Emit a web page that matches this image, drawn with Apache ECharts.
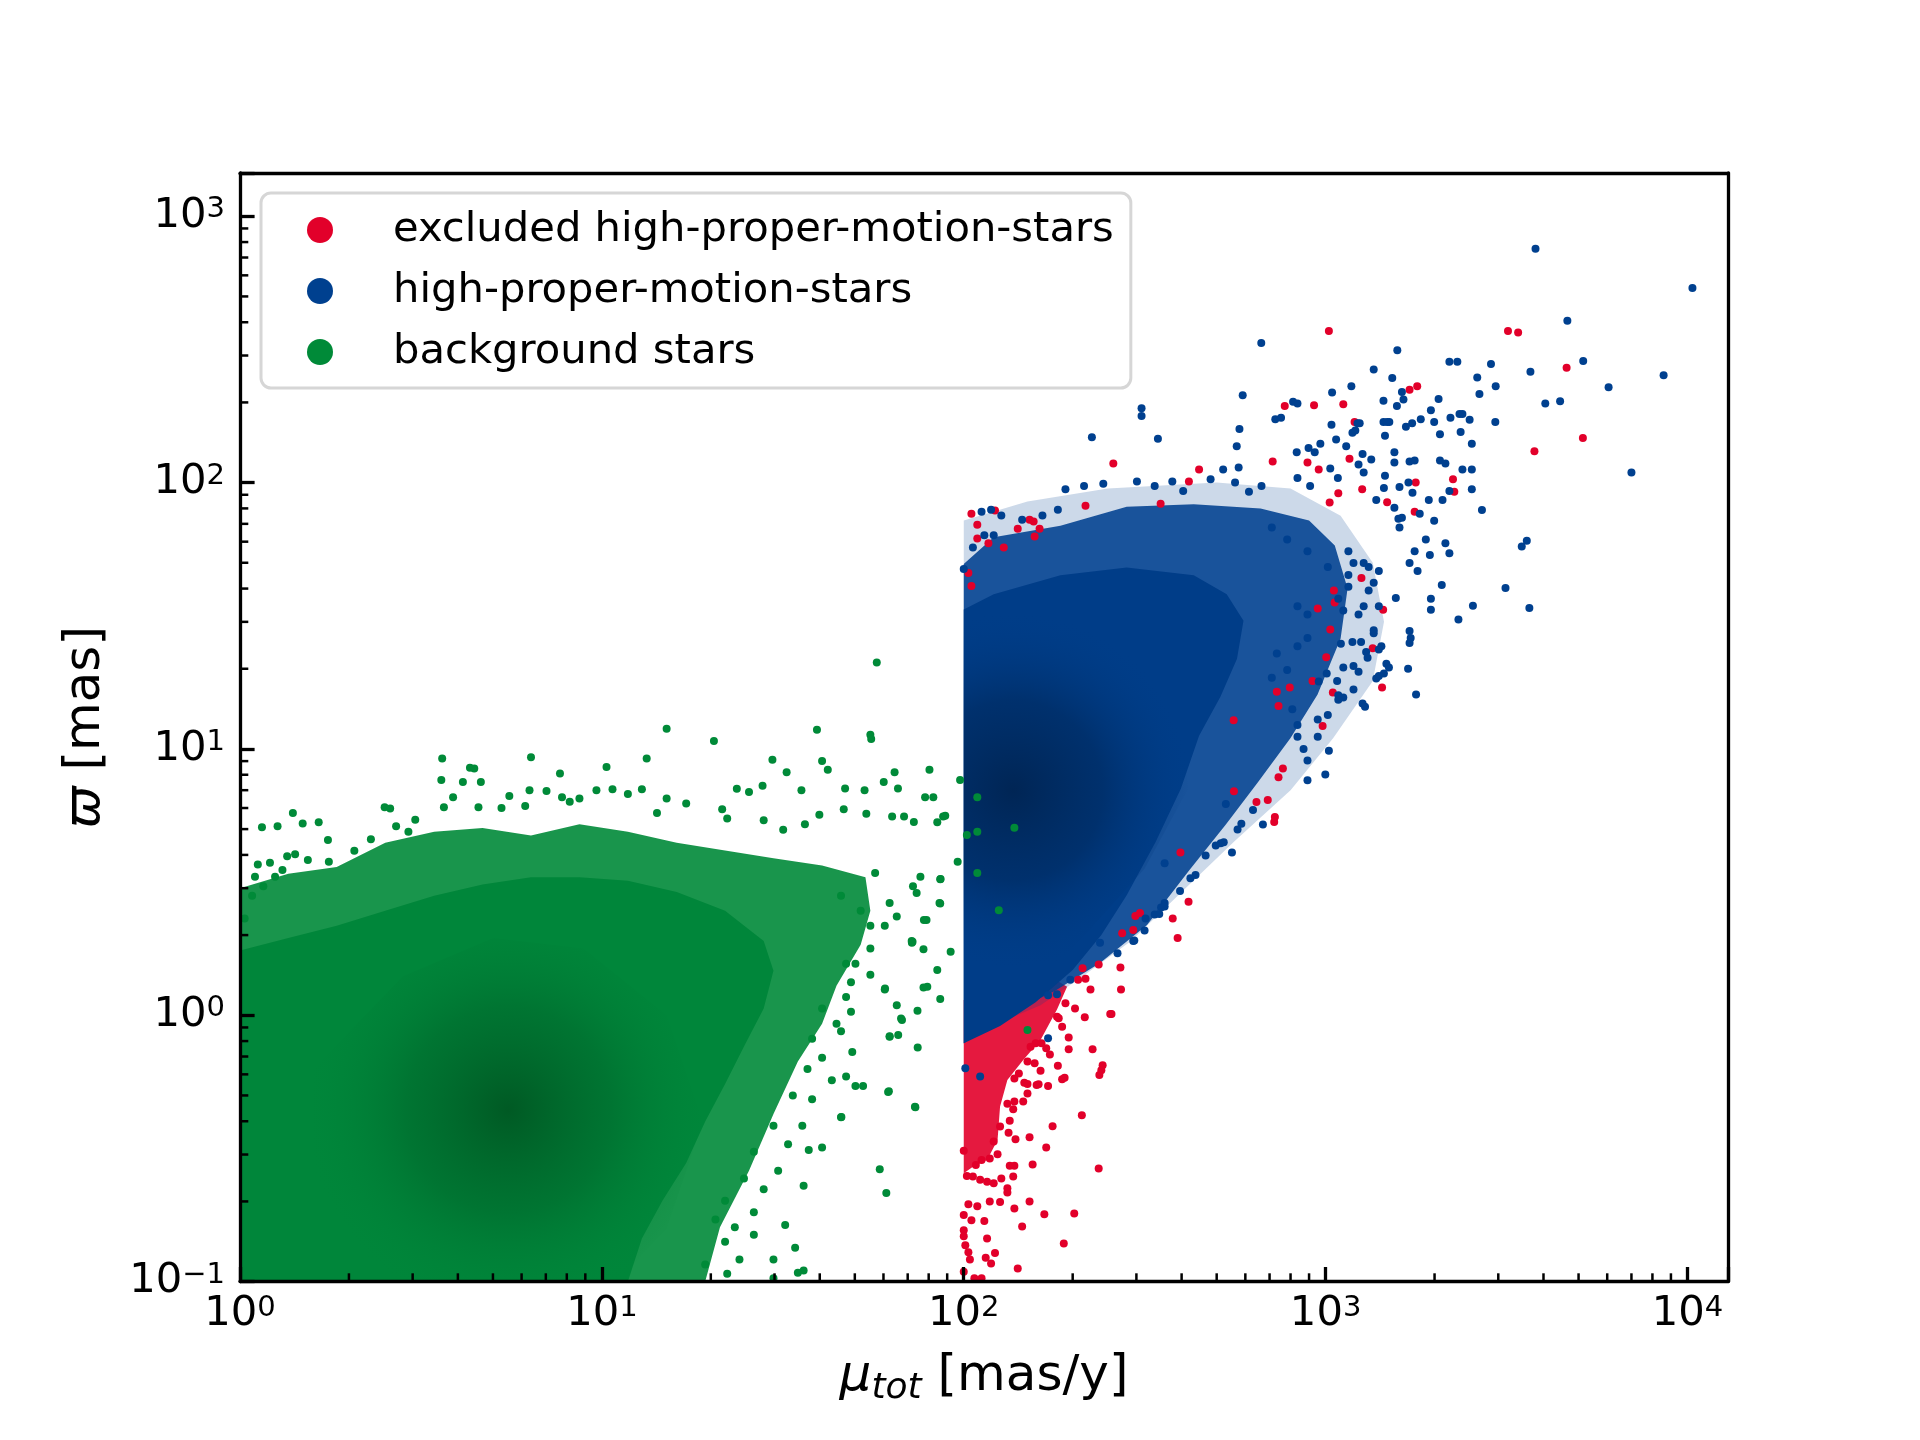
<!DOCTYPE html>
<html>
<head>
<meta charset="utf-8">
<title>proper motion vs parallax</title>
<script src="https://cdn.jsdelivr.net/npm/echarts@6/dist/echarts.min.js"></script>
<style>
html, body { margin: 0; padding: 0; background: #fff; }
#chart { width: 1920px; height: 1440px; }
</style>
</head>
<body>
<div id="chart"></div>
<script>
'use strict';

// axis ranges (mas/y, mas) and minor tick positions
var muRange = [1, 12940];
var plxRange = [0.1, 1456];
var muMinorTicks = [2, 3, 4, 5, 6, 7, 8, 9, 20, 30, 40, 50, 60, 70, 80, 90,
    200, 300, 400, 500, 600, 700, 800, 900, 2000, 3000, 4000, 5000, 6000, 7000, 8000, 9000];
var plxMinorTicks = [0.2, 0.3, 0.4, 0.5, 0.6, 0.7, 0.8, 0.9, 2, 3, 4, 5, 6, 7, 8, 9,
    20, 30, 40, 50, 60, 70, 80, 90, 200, 300, 400, 500, 600, 700, 800, 900];

var seriesNames = ['excluded high-proper-motion-stars', 'high-proper-motion-stars', 'background stars'];

// background stars: outline of the dense cloud and its dark core, plus single stars
var greenHalo = [[1, 3.0], [1.36, 3.4], [1.85, 3.6], [2.52, 4.44], [3.44, 4.89], [4.68, 5.05], [6.37, 4.73],
    [8.67, 5.21], [11.8, 4.89], [16.1, 4.44], [21.9, 4.16], [29.8, 3.89], [40.6, 3.65], [53.5, 3.30],
    [55.2, 2.47], [51.9, 1.84], [44.5, 1.29], [40.6, 0.929], [34.8, 0.671], [29.8, 0.426], [25.5, 0.261],
    [21.2, 0.160], [19.3, 0.1], [1, 0.1]];
var greenBody = [[1, 1.75], [1.36, 1.95], [1.85, 2.17], [2.52, 2.47], [3.44, 2.81], [4.68, 3.10], [6.37, 3.30],
    [8.67, 3.30], [11.8, 3.20], [16.1, 2.90], [21.9, 2.47], [28.0, 1.90], [29.8, 1.47], [28.0, 1.06],
    [24.7, 0.764], [21.9, 0.552], [19.3, 0.399], [17.1, 0.279], [14.7, 0.201], [12.9, 0.145], [11.8, 0.1], [1, 0.1]];
var greenCore = [[1.6, 0.631], [2.82, 1.40], [5.01, 1.95], [8.91, 1.78], [15.1, 1.0], [19.0, 0.398],
    [15.1, 0.158], [11.0, 0.1], [2.5, 0.1], [1.6, 0.251]];
var greenStars = [[15.1, 11.9], [20.4, 10.7], [39.3, 11.8], [55.2, 11.3], [55.5, 10.9], [3.62, 9.2], [6.37, 9.3],
    [13.3, 9.2], [4.32, 8.5], [4.44, 8.45], [10.3, 8.55], [29.6, 9.1], [40.6, 9.0], [42.1, 8.36], [32.4, 8.18],
    [80.4, 8.36], [64.4, 8.18], [3.6, 7.64], [4.13, 7.52], [4.63, 7.52], [7.66, 8.09], [1.40, 5.75], [1.15, 5.08],
    [1.27, 5.13], [1.49, 5.25], [1.65, 5.30], [2.51, 6.04], [2.60, 5.98], [1.75, 4.55], [27.8, 7.28], [35.6, 7.0],
    [47.0, 7.11], [53.2, 7.0], [60.1, 7.52], [65.8, 7.11], [78.2, 6.59], [82.4, 6.59], [97.7, 7.64], [87.7, 5.57],
    [84.5, 5.30], [109, 6.59], [109, 4.89], [102, 4.75], [96.2, 3.77], [109, 3.42], [86.3, 3.25], [92.0, 1.73],
    [125, 2.48], [75.9, 3.31], [72.4, 3.05], [74.1, 2.88], [85.7, 2.64], [78.9, 2.28], [71.9, 1.87], [77.4, 1.77],
    [84.5, 1.48], [77.4, 1.27], [86.1, 1.15], [60.5, 1.25], [65.3, 1.09], [67.5, 0.96], [74.5, 1.04], [62.4, 0.834],
    [65.9, 0.843], [74.6, 0.757], [62.1, 0.518], [73.5, 0.451], [45.8, 0.414], [49.2, 0.728], [50.2, 0.543],
    [52.7, 0.543], [58.6, 0.264], [61.1, 0.215], [36.1, 0.229], [40.6, 0.319], [37.3, 0.312], [34.2, 0.134],
    [29.8, 0.121], [36.1, 0.110], [34.8, 0.108], [32.1, 0.163], [26.3, 0.150], [24.0, 0.121], [29.8, 0.103],
    [88.9, 5.61], [138, 5.06], [150, 0.881], [57.5, 21.1],
    [1.12, 3.68], [1.21, 3.74], [1.31, 3.51], [1.35, 3.95], [1.42, 4.02], [1.54, 3.83], [1.76, 3.77], [1.10, 3.31],
    [1.16, 3.05], [1.25, 3.31], [1.08, 2.81], [1.03, 2.31], [2.07, 4.15], [2.30, 4.58], [2.70, 5.13], [3.05, 5.42],
    [3.88, 6.59], [3.66, 6.04], [4.56, 6.04], [5.28, 6.0], [5.55, 6.65], [6.31, 7.0], [7.03, 6.95], [8.15, 6.34],
    [9.66, 7.0], [10.7, 7.05], [11.8, 6.78], [12.9, 7.05], [15.1, 6.52], [17.1, 6.24], [21.5, 5.94], [23.6, 7.08],
    [25.5, 6.89], [28.0, 5.40], [31.7, 4.97], [36.4, 5.21], [46.6, 5.94], [53.8, 5.71], [63.4, 5.57], [72.8, 5.32],
    [56.9, 3.42], [62.4, 2.64], [65.3, 2.35], [71.8, 1.90], [55.2, 2.17], [50.2, 1.56], [55.2, 1.42], [47.3, 1.17],
    [44.5, 0.929], [48.8, 1.03], [40.6, 0.693], [43.2, 0.570], [47.3, 0.589], [38.1, 0.484], [35.8, 0.385],
    [32.7, 0.328], [30.7, 0.261], [28.0, 0.222], [26.3, 0.182], [23.3, 0.160], [21.9, 0.141], [19.3, 0.116],
    [22.2, 0.107],
    [2.92, 4.89], [6.14, 6.10], [7.76, 6.59], [8.67, 6.52], [14.2, 5.75], [22.2, 5.48], [39.9, 5.66], [68.4, 5.57],
    [45.8, 2.81], [51.9, 2.47], [60.5, 2.17], [55.2, 1.78], [47.3, 1.56], [48.8, 1.33], [40.6, 1.06], [38.1, 0.817],
    [45.8, 0.871], [37.0, 0.628], [33.7, 0.50], [29.8, 0.385], [26.3, 0.307], [24.7, 0.244], [21.9, 0.201],
    [20.6, 0.171], [60.6, 1.26], [67.1, 0.973], [62.4, 0.83], [61.8, 0.515], [73.3, 0.453], [45.9, 0.415],
    [86.1, 2.63], [86.1, 3.24], [77.6, 2.28], [79.3, 1.28], [72.2, 1.89]];

// high-proper-motion stars
var blueHalo = [[100, 72], [150, 85], [250, 95], [500, 100], [800, 95], [1100, 75], [1350, 50], [1450, 30],
    [1350, 18], [1050, 11], [800, 7], [560, 4.5], [400, 2.9], [290, 1.9], [210, 1.38], [163, 1.09], [118, 0.906],
    [100, 0.785]];
var blueSpeckle = [[100, 49.5], [121, 62.4], [185, 68.9], [282, 81.1], [432, 83], [661, 80], [900, 72],
    [1060, 58], [1150, 40], [1100, 26], [950, 16], [800, 11], [650, 7.5], [530, 5.2], [420, 3.5], [321, 2.18],
    [238, 1.57], [178, 1.23], [146, 1.08], [118, 0.906], [100, 0.785]];
var blueBody = [[100, 0.785], [100, 33.4], [121, 38.1], [185, 44.9], [282, 48.0], [432, 44.9], [533, 38.1],
    [593, 30.3], [569, 21.8], [512, 15.7], [447, 11.2], [398, 7.08], [339, 4.47], [282, 2.82], [240, 2.0],
    [200, 1.48], [158, 1.12], [126, 0.912]];
var blueCore = [[100, 1.26], [100, 31.6], [158, 35.5], [282, 28.2], [398, 15.8], [417, 7.08], [316, 3.55],
    [200, 1.78], [141, 1.12]];
var blueStars = [[3802, 755], [10320, 538], [4656, 405],
    [664, 334], [1578, 314], [2198, 284], [2312, 284], [2864, 279], [5150, 286], [8590, 253], [6053, 228],
    [3681, 261], [4046, 198], [4446, 202], [2624, 248], [2661, 215], [2951, 230], [1528, 247], [1358, 266],
    [1042, 218], [1178, 230], [1625, 219], [1641, 205], [1445, 203], [1574, 194], [2052, 206], [1954, 187],
    [2213, 175], [2344, 181], [2388, 181], [2500, 172], [2944, 169], [2535, 140], [2361, 155], [1995, 169],
    [1832, 173], [1734, 167], [1667, 162], [1445, 169], [1479, 169], [1500, 169], [1459, 150], [2070, 152],
    [836, 198], [813, 201], [590, 213], [310, 190], [310, 178], [226, 148], [344, 146], [568, 137], [578, 159],
    [726, 173], [753, 175], [1038, 165], [1140, 137], [1225, 167], [1242, 167], [1069, 145], [1186, 154],
    [1208, 157], [832, 130], [897, 135], [933, 130], [967, 140], [1265, 128], [1337, 122], [1549, 130],
    [1549, 119], [1706, 120], [1762, 121], [1459, 106], [2070, 121], [2143, 118], [2388, 112], [2535, 112],
    [2535, 94.4], [2704, 78.9], [2198, 92.9], [1928, 86.1], [2104, 86.1], [1995, 71.9], [1600, 96.2], [1738, 91.6],
    [1694, 100], [1449, 95.5], [1820, 76.4], [1589, 73.1], [1600, 67.8], [1892, 61.2], [1762, 55.2], [1706, 49.9],
    [1941, 53.5], [1795, 46.6], [2143, 59.2], [2198, 54.3], [3483, 57.5], [3597, 60.5], [3141, 40.2], [3656, 33.8],
    [2553, 34.5], [2328, 30.6], [2094, 41.3], [1954, 36.6], [1954, 33.3], [7000, 109], [1563, 36.9], [1706, 27.7],
    [1718, 26.1], [1706, 25.0], [1690, 20.0], [1778, 16.0], [1472, 20.9], [1496, 20.2], [1449, 19.2], [1358, 27.2],
    [1426, 24.3], [1403, 23.6], [1294, 23.1], [1306, 22.0], [1380, 18.4], [1403, 18.8], [1285, 14.4], [1265, 14.8],
    [1194, 16.7], [1119, 15.6], [1084, 15.9], [1233, 19.5], [1194, 20.5], [1119, 20.2], [1076, 18.0], [1084, 15.3],
    [1186, 25.2], [1253, 25.2], [1102, 24.8], [1007, 19.2], [957, 17.9], [1021, 9.84], [998, 8.02], [891, 9.04],
    [891, 7.62], [951, 11.1], [869, 10.0], [836, 11.1], [836, 12.3], [809, 14.1], [1014, 13.4], [951, 12.9],
    [1358, 42.1], [1403, 46.6], [1315, 48.2], [1274, 49.9], [1156, 55.2], [1194, 49.9], [1274, 34.3], [1084, 36.6],
    [1119, 33.1], [1156, 40.6], [836, 34.3], [891, 32.0], [891, 26.1], [836, 24.3], [733, 22.8], [783, 19.8],
    [710, 18.5], [530, 6.21], [585, 5.24], [513, 4.42], [466, 3.98], [437, 3.36], [396, 2.93], [359, 2.64],
    [337, 2.39], [316, 2.08], [296, 1.91], [630, 5.90], [571, 4.98], [497, 4.34], [551, 4.08], [523, 4.46],
    [671, 5.20], [423, 3.27], [351, 2.54], [359, 3.72],
    [191, 94.4], [215, 97.1], [243, 98.9], [301, 101], [337, 97.1], [377, 101], [404, 92.9], [481, 103], [521, 112],
    [575, 114], [562, 100], [614, 92.3], [665, 97.1], [836, 104], [906, 97.1], [1030, 113], [1081, 104], [1233, 117],
    [1274, 109], [1380, 86.1], [1549, 80.5], [1625, 73.8], [119, 79.1], [112, 77.8], [127, 75.2], [145, 72.6],
    [165, 75.2], [182, 79.1], [100, 47.4], [106, 57.1], [114, 63.4], [121, 63.4], [710, 67.8], [783, 61.2],
    [891, 55.2], [1014, 48.2], [1156, 45.0], [1315, 39.3], [1403, 34.3], [1233, 32.0], [1358, 27.9],
    [359, 2.56], [347, 2.40], [318, 2.31], [294, 1.90], [266, 1.71], [238, 1.87], [197, 1.36], [171, 1.19],
    [181, 1.20], [171, 0.820], [101, 0.632], [111, 0.589]];

// excluded high-proper-motion stars
var redBody = [[100, 1.14], [132, 1.32], [173, 1.40], [193, 1.28], [181, 1.05], [163, 0.807], [146, 0.679],
    [132, 0.571], [126, 0.454], [124, 0.340], [116, 0.286], [106, 0.270], [100, 0.255]];
var redStars = [[1021, 371], [3191, 371], [3404, 366], [4634, 270], [5140, 147], [3776, 131], [1791, 230],
    [1706, 223], [929, 195], [771, 194], [1119, 197], [1202, 169], [259, 118], [714, 120], [957, 112], [891, 119],
    [447, 112], [419, 101], [1164, 123], [2249, 103], [2268, 92.3], [1774, 100], [1762, 77.8], [1479, 84.3],
    [1262, 94.4], [1084, 91.2], [1026, 84.1], [350, 83.2], [217, 81.8], [105, 76.4], [122, 78.5], [109, 69.5],
    [141, 67.1], [152, 72.6], [156, 71.4], [162, 67.1], [157, 62.7], [105, 40.9], [103, 45.8], [109, 61.7],
    [117, 59.2], [129, 57.1], [1256, 43.8], [1442, 33.3], [1054, 39.3], [1059, 35.5], [951, 33.7], [1030, 28.1],
    [1004, 22.1], [1349, 23.9], [1432, 17.0], [920, 18.0], [796, 17.0], [733, 16.4], [741, 14.5], [981, 12.2],
    [557, 12.8], [762, 8.45], [741, 7.82], [692, 6.43], [644, 6.32], [721, 5.32], [724, 5.55], [397, 4.08],
    [558, 6.93], [1047, 16.3],
    [418, 2.67], [378, 2.31], [390, 1.95], [271, 1.51], [272, 1.25], [224, 1.25], [256, 1.01], [216, 0.982],
    [227, 0.745], [242, 0.649], [240, 0.621], [237, 0.596], [195, 0.826], [195, 0.745], [182, 0.646], [173, 0.713],
    [187, 0.575], [190, 0.582], [171, 0.543], [161, 0.551], [212, 0.421], [176, 0.383], [152, 0.348], [169, 0.319],
    [155, 0.275], [236, 0.266], [202, 0.180], [167, 0.179], [152, 0.200], [138, 0.188], [145, 0.161], [189, 0.139],
    [141, 0.112], [122, 0.128], [119, 0.117], [115, 0.123], [116, 0.145], [103, 0.129], [104, 0.121], [100, 0.156],
    [100, 0.148], [101, 0.137], [100, 0.178], [105, 0.170], [114, 0.169], [107, 0.103], [112, 0.103], [100, 0.109],
    [126, 0.199], [118, 0.200], [109, 0.192], [103, 0.195], [102, 0.249], [106, 0.248], [111, 0.241], [116, 0.237],
    [121, 0.234], [127, 0.244], [132, 0.224], [132, 0.216], [108, 0.274], [112, 0.286], [134, 0.272], [138, 0.272],
    [137, 0.248], [100, 0.310], [124, 0.301], [118, 0.290], [134, 0.402], [139, 0.342], [133, 0.362], [126, 0.382],
    [121, 0.336], [147, 0.558], [150, 0.552], [159, 0.547], [150, 0.509], [146, 0.474], [138, 0.474], [137, 0.444],
    [132, 0.465], [163, 0.619], [157, 0.661], [150, 0.670], [142, 0.605], [138, 0.579], [164, 0.785], [169, 0.752],
    [158, 0.785], [153, 0.762], [181, 0.988], [183, 0.975], [187, 0.906], [191, 1.11], [203, 1.06], [207, 1.36],
    [217, 1.37], [213, 1.50], [236, 1.55], [254, 1.01], [294, 2.09], [274, 2.03], [298, 2.36], [307, 2.42]];

var RED = '#e2002a';
var BLUE = '#00408f';
var GREEN = '#008a38';
var FONT = 'DejaVu Sans';

function powerLabel(v) {
    var e = Math.log(v) / Math.LN10;
    var k = Math.round(e);
    if (Math.abs(e - k) > 1e-6) {
        return '';
    }
    return '{b|10}{s|' + (k < 0 ? '\u2212' + (-k) : k) + '}';
}

var labelRich = {
    b: { fontFamily: FONT, fontSize: 41.7, lineHeight: 42, color: '#000' },
    s: { fontFamily: FONT, fontSize: 29, lineHeight: 18, verticalAlign: 'top', color: '#000' }
};

// filled outline of a dense cloud, placed through the axes
function cloud(points, fill) {
    return {
        type: 'custom',
        coordinateSystem: 'cartesian2d',
        silent: true,
        clip: true,
        data: points,
        renderItem: function (params, api) {
            if (params.dataIndex !== 0) {
                return null;
            }
            var pts = points.map(function (p) { return api.coord(p); });
            return { type: 'polygon', shape: { points: pts }, style: { fill: fill } };
        }
    };
}

function stars(name, data, color) {
    return {
        name: name,
        type: 'scatter',
        data: data,
        symbol: 'circle',
        symbolSize: 8,
        silent: true,
        clip: true,
        itemStyle: { color: color, opacity: 1 }
    };
}

function minorTicks(values, vertical) {
    return {
        type: 'custom',
        coordinateSystem: 'cartesian2d',
        silent: true,
        clip: false,
        z: 20,
        data: values.map(function (v) { return vertical ? [muRange[0], v] : [v, plxRange[0]]; }),
        renderItem: function (params, api) {
            var p = api.coord([api.value(0), api.value(1)]);
            var shape = vertical
                ? { x1: p[0], y1: p[1], x2: p[0] + 8.3, y2: p[1] }
                : { x1: p[0], y1: p[1], x2: p[0], y2: p[1] - 8.3 };
            return { type: 'line', shape: shape, style: { stroke: '#000', lineWidth: 2.5 } };
        }
    };
}

function radial(cx, cy, r, stops) {
    return new echarts.graphic.RadialGradient(cx, cy, r, stops.map(function (s) {
        return { offset: s[0], color: s[1] };
    }));
}

function spineAxis(position, range) {
    return {
        type: 'log', logBase: 10, position: position, min: range[0], max: range[1], z: 10,
        axisLine: { show: true, lineStyle: { color: '#000', width: 3.3 } },
        axisTick: { show: false }, axisLabel: { show: false }, splitLine: { show: false }
    };
}

var chart = echarts.init(document.getElementById('chart'), null, { renderer: 'canvas' });

chart.setOption({
    animation: false,
    backgroundColor: '#fff',
    grid: { left: 240, right: 192, top: 172.8, bottom: 158.4, containLabel: false, outerBoundsMode: 'none' },
    legend: {
        data: seriesNames,
        orient: 'vertical',
        left: 261,
        top: 193,
        icon: 'circle',
        itemWidth: 100,
        itemHeight: 26,
        itemGap: 17,
        selectedMode: false,
        padding: [15, 17, 14, 46],
        backgroundColor: '#fff',
        borderColor: '#d6d6d6',
        borderWidth: 3,
        borderRadius: 10,
        textStyle: { fontFamily: FONT, fontSize: 41.7, lineHeight: 44, color: '#000', padding: [0, 0, 0, 18] }
    },
    xAxis: [{
        type: 'log', logBase: 10, position: 'bottom', min: muRange[0], max: muRange[1], z: 10,
        splitLine: { show: false },
        axisLine: { show: true, lineStyle: { color: '#000', width: 3.3 } },
        axisTick: { show: true, inside: true, length: 14.6, lineStyle: { color: '#000', width: 3.3 } },
        axisLabel: { margin: 12, formatter: powerLabel, rich: labelRich },
        name: '{mu|\u03bc}{sub|tot}{n| [mas/y]}',
        nameLocation: 'middle',
        nameGap: 65,
        nameTextStyle: {
            rich: {
                mu: { fontFamily: FONT, fontSize: 50, fontStyle: 'italic', lineHeight: 60, color: '#000' },
                sub: { fontFamily: FONT, fontSize: 36, fontStyle: 'italic', lineHeight: 30, verticalAlign: 'bottom', color: '#000' },
                n: { fontFamily: FONT, fontSize: 50, lineHeight: 60, color: '#000' }
            }
        }
    }, spineAxis('top', muRange)],
    yAxis: [{
        type: 'log', logBase: 10, position: 'left', min: plxRange[0], max: plxRange[1], z: 10,
        splitLine: { show: false },
        axisLine: { show: true, lineStyle: { color: '#000', width: 3.3 } },
        axisTick: { show: true, inside: true, length: 14.6, lineStyle: { color: '#000', width: 3.3 } },
        axisLabel: { margin: 15, formatter: powerLabel, rich: labelRich },
        name: '{v|\u03d6}{n| [mas]}',
        nameLocation: 'middle',
        nameGap: 124,
        nameTextStyle: {
            rich: {
                v: { fontFamily: FONT, fontSize: 50, fontStyle: 'italic', lineHeight: 60, color: '#000' },
                n: { fontFamily: FONT, fontSize: 50, lineHeight: 60, color: '#000' }
            }
        }
    }, spineAxis('right', plxRange)],
    series: [
        cloud(redBody, 'rgba(226,0,42,0.9)'),
        stars(seriesNames[0], redStars, RED),
        cloud(blueHalo, 'rgba(0,64,143,0.2)'),
        cloud(blueSpeckle, 'rgba(0,64,143,0.88)'),
        cloud(blueBody, '#003d88'),
        cloud(blueCore, radial(0.22, 0.47, 0.8, [[0, 'rgba(0,36,82,0.95)'], [0.5, 'rgba(0,42,95,0.65)'], [1, 'rgba(0,61,136,0)']])),
        stars(seriesNames[1], blueStars, BLUE),
        cloud(greenHalo, 'rgba(0,138,56,0.9)'),
        cloud(greenBody, '#00863a'),
        cloud(greenCore, radial(0.5, 0.5, 0.6, [[0, 'rgba(0,82,32,0.85)'], [0.5, 'rgba(0,100,42,0.5)'], [1, 'rgba(0,134,58,0)']])),
        stars(seriesNames[2], greenStars, GREEN),
        minorTicks(muMinorTicks, false),
        minorTicks(plxMinorTicks, true)
    ]
});
</script>
</body>
</html>
